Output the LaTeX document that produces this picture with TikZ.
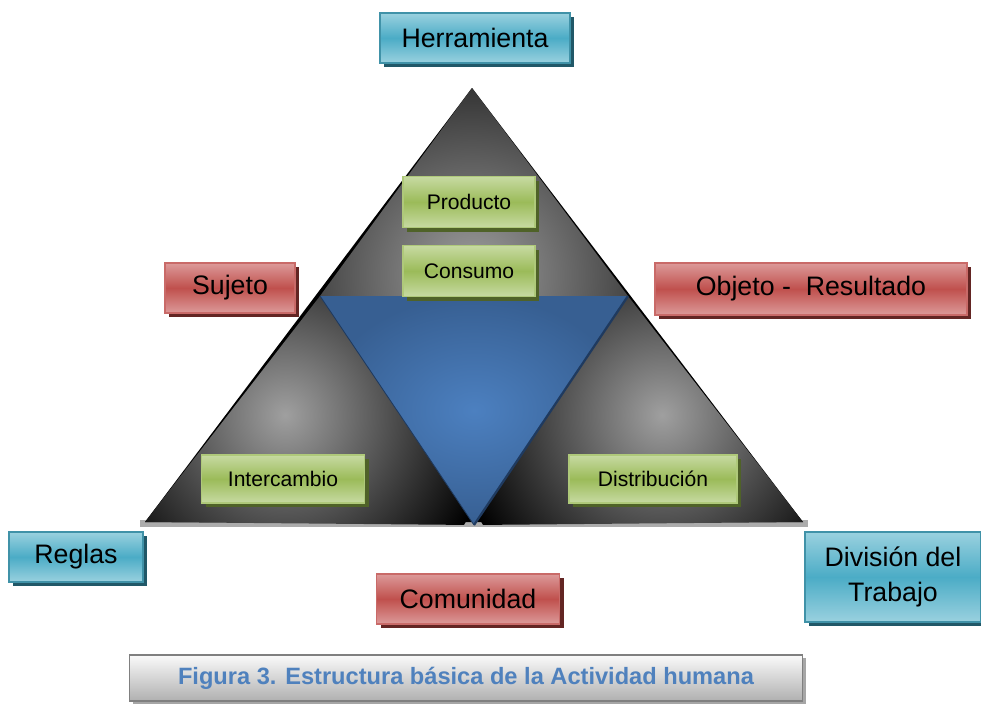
\documentclass[tikz,border=0pt]{standalone}
\usepackage{fontspec}
\setmainfont{Liberation Sans}
\usetikzlibrary{shadows}
\definecolor{tealL}{HTML}{9AD1DF}
\definecolor{tealM}{HTML}{4BACC6}
\definecolor{tealS}{HTML}{215868}
\definecolor{redL}{HTML}{DC9A99}
\definecolor{redM}{HTML}{C0504D}
\definecolor{redS}{HTML}{632523}
\definecolor{grnL}{HTML}{C7DAA2}
\definecolor{grnM}{HTML}{9BBB59}
\definecolor{grnS}{HTML}{4F6228}
\definecolor{bluL}{HTML}{4C80C0}
\definecolor{bluD}{HTML}{375F92}
\definecolor{bluE}{HTML}{1F3A5F}
\definecolor{capT}{HTML}{FAFAFA}
\definecolor{capB}{HTML}{B0B0B0}
\definecolor{capTxt}{HTML}{4F81BD}
\begin{document}
\begin{tikzpicture}[x=0.025cm,y=-0.025cm,
  boxbase/.style={rectangle, inner sep=0pt, align=center, text=black, line width=0.8pt},
  tealbox/.style={boxbase, draw=tealM!85!black, top color=tealL, bottom color=tealL, middle color=tealM,
    drop shadow={fill=tealS, opacity=1, shadow xshift=0.1cm, shadow yshift=-0.1cm}, font=\fontsize{19}{25}\selectfont},
  redbox/.style={boxbase, draw=redM!85!white, top color=redL, bottom color=redL, middle color=redM,
    drop shadow={fill=redS, opacity=1, shadow xshift=0.1cm, shadow yshift=-0.1cm}, font=\fontsize{19}{25}\selectfont},
  grnbox/.style={boxbase, draw=grnM!80!white, top color=grnL, bottom color=grnL, middle color=grnM,
    drop shadow={fill=grnS, opacity=1, shadow xshift=0.1cm, shadow yshift=-0.1cm}, font=\fontsize{15}{18}\selectfont},
  capbox/.style={boxbase, draw=gray, top color=capT, bottom color=capB,
    drop shadow={fill=gray!70, opacity=1, shadow xshift=0.08cm, shadow yshift=-0.08cm},
    font=\fontsize{16.8}{20}\selectfont\bfseries, text=capTxt},
]
\useasboundingbox (0,0) rectangle (981,704);
% base stripe
\fill[gray!65] (140,520) rectangle (808,527);
% big triangle
\coordinate (A) at (472,88);
\coordinate (L) at (145,522);
\coordinate (R) at (803,522);
\coordinate (B1) at (320,296);
\coordinate (B2) at (628,296);
\coordinate (B3) at (474,525);
\fill[black] (A) -- (L) -- (R) -- cycle;
\begin{scope}
  \clip (L) -- (B1) -- (B3) -- cycle;
  \shade[inner color=gray!75, outer color=black] (285,415) circle (210);
\end{scope}
\begin{scope}
  \clip (R) -- (B2) -- (B3) -- cycle;
  \shade[inner color=gray!75, outer color=black] (662,415) circle (210);
\end{scope}
\begin{scope}
  \clip (A) -- (B1) -- (B2) -- cycle;
  \shade[inner color=gray!75, outer color=black] (472,275) circle (280);
\end{scope}
% blue inverted triangle
\shade[inner color=bluL, outer color=bluD] (B1) -- (B2) -- (B3) -- cycle;
\draw[bluE, line width=0.6pt] (B1) -- (B3);
\draw[bluE, line width=1.6pt] (B2) -- (B3);
% boxes
\node[tealbox, minimum width={190*0.025cm}, minimum height={50*0.025cm}] (herr) at (475,38) {Herramienta};
\node[grnbox, minimum width={132*0.025cm}, minimum height={51*0.025cm}] (prod) at (469,202) {Producto};
\node[grnbox, minimum width={132*0.025cm}, minimum height={51*0.025cm}] (cons) at (469,271) {Consumo};
\node[redbox, minimum width={130*0.025cm}, minimum height={50*0.025cm}] (suj) at (230,288) {Sujeto};
\node[redbox, minimum width={312*0.025cm}, minimum height={52*0.025cm}] (obj) at (811,289) {Objeto -\ \ Resultado};
\node[grnbox, minimum width={163*0.025cm}, minimum height={48*0.025cm}] (inter) at (283,479) {Intercambio};
\node[grnbox, minimum width={168*0.025cm}, minimum height={48*0.025cm}] (dist) at (653,479) {Distribución};
\node[tealbox, minimum width={134*0.025cm}, minimum height={50*0.025cm}] (regl) at (76,557) {Reglas};
\node[tealbox, minimum width={176*0.025cm}, minimum height={90*0.025cm}] (div) at (893,577) {División del\\Trabajo};
\node[redbox, minimum width={183*0.025cm}, minimum height={50*0.025cm}] (com) at (468,599) {Comunidad};
\node[capbox, minimum width={673*0.025cm}, minimum height={46*0.025cm}] (cap) at (466,678) {Figura 3. Estructura básica de la Actividad humana};
\end{tikzpicture}
\end{document}
